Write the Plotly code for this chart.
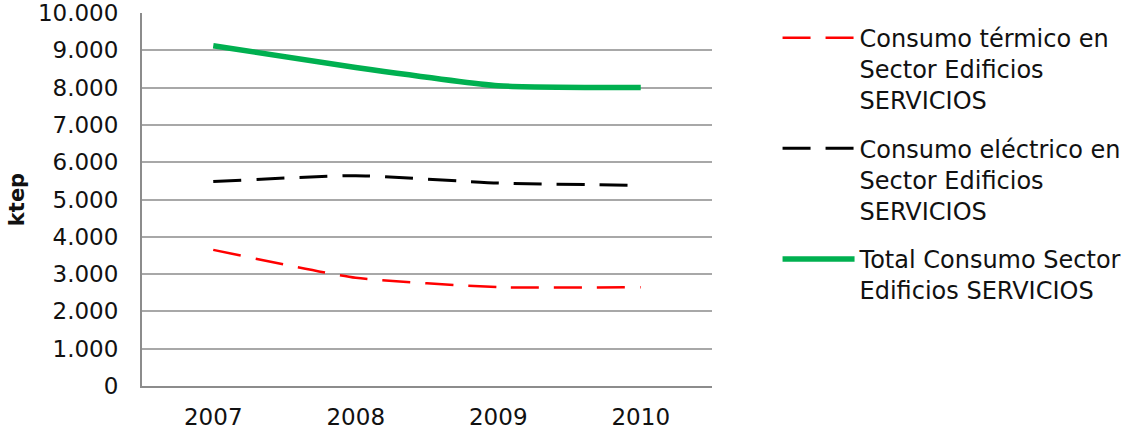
import plotly.graph_objects as go

years = ["2007", "2008", "2009", "2010"]
termico = [3650, 2900, 2650, 2650]
electrico = [5480, 5640, 5440, 5380]
total = [9120, 8540, 8050, 8000]

y_ticks = list(range(0, 10001, 1000))
y_tick_labels = ["0", "1.000", "2.000", "3.000", "4.000", "5.000",
                 "6.000", "7.000", "8.000", "9.000", "10.000"]

names = [
    "Consumo térmico en<br>Sector Edificios<br>SERVICIOS",
    "Consumo eléctrico en<br>Sector Edificios<br>SERVICIOS",
    "Total Consumo Sector<br>Edificios SERVICIOS",
]

FONT = "DejaVu Sans"

fig = go.Figure()
fig.add_trace(go.Scatter(
    x=years, y=termico, mode="lines", name=names[0],
    line=dict(color="#ff0000", width=2.5, dash="28px,15px", shape="spline", smoothing=0.5),
    legendgroup="a",
))
fig.add_trace(go.Scatter(
    x=years, y=electrico, mode="lines", name=names[1],
    line=dict(color="#000000", width=3, dash="28px,15px", shape="spline", smoothing=0.5),
    legendgroup="b",
))
fig.add_trace(go.Scatter(
    x=years, y=total, mode="lines", name=names[2],
    line=dict(color="#00b050", width=5.5, shape="spline", smoothing=0.5),
    legendgroup="c",
))

fig.update_layout(
    width=1143, height=435,
    margin=dict(l=142, r=431, t=13, b=49, autoexpand=False),
    paper_bgcolor="white", plot_bgcolor="white",
    font=dict(family=FONT, color="#111111", size=22),
    showlegend=True,
    legend=dict(
        x=1.115, y=0.993, xanchor="left", yanchor="top",
        font=dict(family=FONT, size=24, color="#111111"),
        valign="top", tracegroupgap=14, itemwidth=72,
        bgcolor="rgba(0,0,0,0)",
    ),
    xaxis=dict(
        type="category", range=[-0.5, 3.5],
        showgrid=False, zeroline=False, automargin=False,
        showline=True, linecolor="#8c8c8c", linewidth=2,
        ticks="", ticklabelstandoff=9,
        tickfont=dict(family=FONT, size=23, color="#111111"),
    ),
    yaxis=dict(
        range=[0, 10000], tickvals=y_ticks, ticktext=y_tick_labels,
        showgrid=True, gridcolor="#a8a8a8", gridwidth=1.5,
        zeroline=False, automargin=False,
        showline=True, linecolor="#8c8c8c", linewidth=2, mirror=False,
        ticks="", ticklabelstandoff=17,
        tickfont=dict(family=FONT, size=23, color="#111111"),
        title=dict(text="<b>ktep</b>", standoff=8,
                   font=dict(family=FONT, size=21, color="#111111")),
    ),
)

fig.write_html("out.html")
